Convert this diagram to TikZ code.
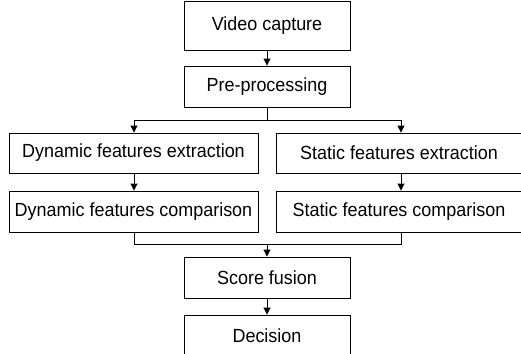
\documentclass[tikz,border=0pt]{standalone}
\usepackage{fontspec}
\setmainfont{Liberation Sans}
\usetikzlibrary{arrows.meta}
\newcommand{\mylbl}[1]{\scalebox{0.945}[1]{#1}}
\begin{document}
\begin{tikzpicture}[x=1pt,y=-1pt,
  box/.style={draw,line width=0.9pt,inner sep=0pt,font=\fontsize{19}{21}\selectfont},
  conn/.style={line width=0.9pt,-{Triangle[length=7pt,width=7pt]}},
  plain/.style={line width=0.9pt}]
\useasboundingbox (0,0) rectangle (521,353);
\node[box,minimum width=166pt,minimum height=49pt] (vid) at (267,25.5) {\mylbl{Video capture}};
\node[box,minimum width=166pt,minimum height=41pt] (pre) at (267,86.5) {\mylbl{Pre-processing}};
\node[box,minimum width=249pt,minimum height=40pt] (dyne) at (133.5,153) {\mylbl{Dynamic features extraction}};
\node[box,minimum width=246pt,minimum height=40pt] (state) at (399,153) {\mylbl{Static features extraction}};
\node[box,minimum width=249pt,minimum height=41pt] (dync) at (133.5,211.5) {\mylbl{Dynamic features comparison}};
\node[box,minimum width=246pt,minimum height=41pt] (statc) at (399,211.5) {\mylbl{Static features comparison}};
\node[box,minimum width=166pt,minimum height=41pt] (score) at (267,277.5) {\mylbl{Score fusion}};
\node[box,minimum width=166pt,minimum height=41pt] (dec) at (267,335.5) {\mylbl{Decision}};
\coordinate (split) at (267,120.7);
\coordinate (merge) at (267,244);
\coordinate (xl) at (134,0);
\coordinate (xr) at (401,0);
\draw[conn] (vid) -- (pre);
\draw[plain] (pre) -- (split);
\draw[conn] (split) -| (dyne.north -| xl);
\draw[conn] (split) -| (state.north -| xr);
\draw[conn] (dyne.south -| xl) -- (dync.north -| xl);
\draw[conn] (state.south -| xr) -- (statc.north -| xr);
\draw[plain] (dync.south -| xl) |- (merge);
\draw[plain] (statc.south -| xr) |- (merge);
\draw[conn] (merge) -- (score);
\draw[conn] (score) -- (dec);
\end{tikzpicture}
\end{document}
